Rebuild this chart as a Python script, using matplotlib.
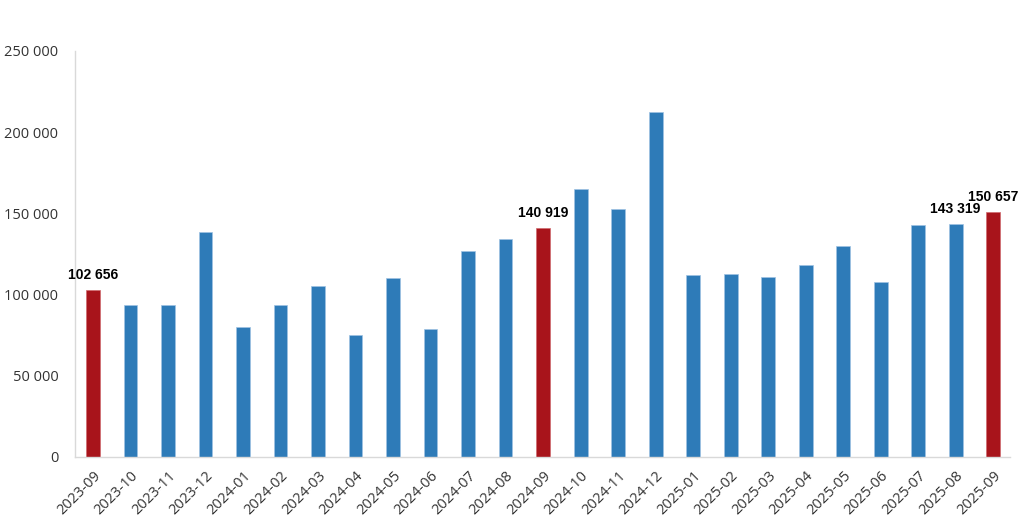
import matplotlib.pyplot as plt
from matplotlib.ticker import FuncFormatter

months = ['2023-09', '2023-10', '2023-11', '2023-12', '2024-01', '2024-02',
          '2024-03', '2024-04', '2024-05', '2024-06', '2024-07', '2024-08',
          '2024-09', '2024-10', '2024-11', '2024-12', '2025-01', '2025-02',
          '2025-03', '2025-04', '2025-05', '2025-06', '2025-07', '2025-08',
          '2025-09']
values = [102656, 93600, 93500, 138500, 80000, 93800,
          105300, 75300, 110300, 78900, 127000, 134200,
          140919, 165000, 152800, 212400, 112100, 112700,
          110800, 118300, 129900, 107800, 142900, 143319,
          150657]
highlight = ['2023-09', '2024-09', '2025-09']
labelled = ['2023-09', '2024-09', '2025-08', '2025-09']

BLUE = '#2e7bb8'
RED = '#a8141b'

plt.rcParams['font.family'] = ['Open Sans', 'DejaVu Sans']

fig = plt.figure(figsize=(10.24, 5.26), dpi=100)
ax = fig.add_axes([75 / 1024, 69 / 526, 935 / 1024, 406 / 526])

x = list(range(len(months)))
colors = [RED if m in highlight else BLUE for m in months]
ax.bar(x, values, width=0.37, color=colors, edgecolor='#9fc3e3', linewidth=0.5)
for bar, m in zip(ax.patches, months):
    if m in highlight:
        bar.set_edgecolor('#d06a6e')

# value labels above selected bars
for i, (m, v) in enumerate(zip(months, values)):
    if m in labelled:
        ax.annotate(f'{v:,}'.replace(',', ' '), (i, v), xytext=(0, 6),
                    textcoords='offset points', ha='center', va='bottom',
                    fontsize=10, fontweight='bold', family='Liberation Sans',
                    color='black')

ax.set_ylim(0, 250000)
ax.set_xlim(-0.48, len(months) - 0.55)
ax.set_yticks(range(0, 250001, 50000))
ax.yaxis.set_major_formatter(FuncFormatter(lambda v, p: f'{int(v):,}'.replace(',', ' ')))
ax.set_xticks(x)
ax.set_xticklabels(months, rotation=45, ha='right', rotation_mode='anchor')

ax.tick_params(axis='both', length=0, labelsize=10.5, colors='#333333')
ax.tick_params(axis='y', pad=12)
ax.tick_params(axis='x', pad=8)
for side in ('top', 'right'):
    ax.spines[side].set_visible(False)
for side in ('left', 'bottom'):
    ax.spines[side].set_color('#d9d9d9')
    ax.spines[side].set_linewidth(1)

fig.savefig('out.png', dpi=100)
